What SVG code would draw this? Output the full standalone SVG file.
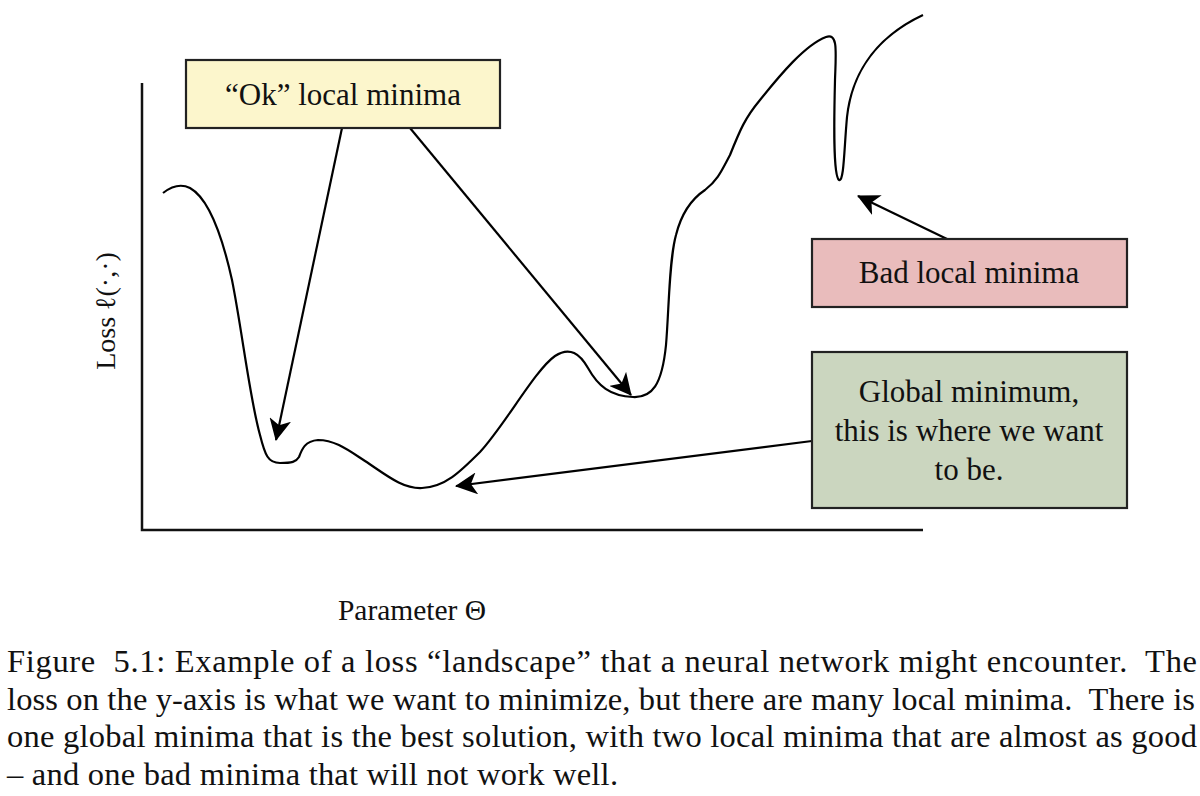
<svg xmlns="http://www.w3.org/2000/svg" width="1200" height="796" viewBox="0 0 1200 796">
<defs>
<style>
text{font-family:"Liberation Serif","DejaVu Serif",serif;fill:#111}
.lbl{font-size:31px;text-anchor:middle}
.cap{font-size:32.5px}
.box{stroke:#222;stroke-width:2.2}
.ln{fill:none;stroke:#000;stroke-width:2.2}
</style>
<marker id="ah" viewBox="0 0 22 22" markerWidth="22" markerHeight="22" refX="21" refY="11" orient="auto" markerUnits="userSpaceOnUse">
<path d="M22,11 L0,0 L6,11 L0,22 Z" fill="#000"/>
</marker>
</defs>
<rect width="1200" height="796" fill="#fff"/>
<g id="axes">
<path d="M142,83 V530 H923" fill="none" stroke="#111" stroke-width="2.5"/>
<text x="0" y="0" transform="translate(115,311) rotate(-90)" style="font-size:28px;text-anchor:middle">Loss ℓ(·,·)</text>
<text x="412" y="620" style="font-size:29.5px;text-anchor:middle">Parameter Θ</text>
</g>
<g id="curve">
<path class="ln" stroke-width="2.5" d="M163,193 C172,186 182,184 190,188 C208,198 222,235 232,280 C242,330 250,400 260,435 C265,455 268,463 280,463 C292,463 296,462 299,457 C302,449 305,441 318,440 C335,440 348,450 365,461 C385,474 402,489 422,488 C445,487 460,472 480,452 C505,425 535,370 555,356 C570,346 580,354 588,368 C598,386 610,396 633,397 C652,398 662,385 666,345 C669,310 669,260 676,235 C681,215 690,200 705,190 C718,180 722,170 730,155 C740,130 745,118 760,100 C780,75 805,45 826,37 C838,33 836,50 835,80 C834,120 833,175 839,180 C844,182 844,150 847,117 C851,80 870,40 923,15"/>
</g>
<g id="connectors">
<line class="ln" x1="342" y1="128" x2="276" y2="440" marker-end="url(#ah)"/>
<line class="ln" x1="410" y1="128" x2="631" y2="395" marker-end="url(#ah)"/>
<line class="ln" x1="947" y1="239" x2="858" y2="196" marker-end="url(#ah)"/>
<line class="ln" x1="812" y1="441" x2="456" y2="486" marker-end="url(#ah)"/>
</g>
<g id="ok-box">
<rect class="box" x="186" y="60" width="314" height="68" fill="#fcf6cc"/>
<text class="lbl" x="343" y="105">“Ok” local minima</text>
</g>
<g id="bad-box">
<rect class="box" x="812" y="239" width="315" height="68" fill="#e9bcbc"/>
<text class="lbl" x="969" y="283">Bad local minima</text>
</g>
<g id="global-box">
<rect class="box" x="812" y="352" width="315" height="156" fill="#cbd6bf"/>
<text class="lbl" x="969" y="402">Global minimum,</text>
<text class="lbl" x="969" y="441">this is where we want</text>
<text class="lbl" x="969" y="480">to be.</text>
</g>
<g id="caption">
<text class="cap" x="7" y="672" textLength="1190" lengthAdjust="spacing" xml:space="preserve">Figure  5.1: Example of a loss “landscape” that a neural network might encounter.  The</text>
<text class="cap" x="7" y="710" textLength="1188" lengthAdjust="spacing" xml:space="preserve">loss on the y-axis is what we want to minimize, but there are many local minima.  There is</text>
<text class="cap" x="7" y="747" textLength="1190" lengthAdjust="spacing">one global minima that is the best solution, with two local minima that are almost as good</text>
<text class="cap" x="7" y="785" textLength="611" lengthAdjust="spacing">– and one bad minima that will not work well.</text>
</g>
</svg>
